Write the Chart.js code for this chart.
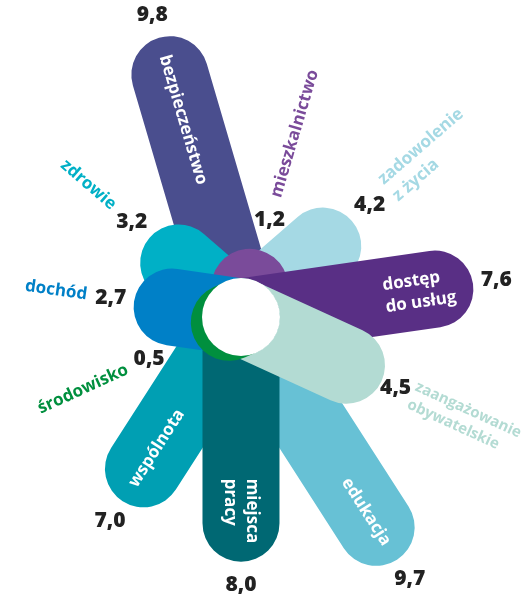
<!DOCTYPE html>
<html><head><meta charset="utf-8">
<script src="https://cdn.jsdelivr.net/npm/chart.js@4/dist/chart.umd.min.js"></script>
<style>html,body{margin:0;padding:0;background:#fff}#wrap{width:527px;height:598px;position:relative}</style>
</head><body><div id="wrap"><canvas id="c"></canvas></div>
<script>
const categories = [['bezpieczeństwo'],['mieszkalnictwo'],['zadowolenie','z życia'],['dostęp','do usług'],['zaangażowanie','obywatelskie'],['edukacja'],['miejsca','pracy'],['wspólnota'],['środowisko'],['dochód'],['zdrowie']];
const values = [9.8, 1.2, 4.2, 7.6, 4.5, 9.7, 8.0, 7.0, 0.5, 2.7, 3.2];
const valueLabels = ['9,8','1,2','4,2','7,6','4,5','9,7','8,0','7,0','0,5','2,7','3,2'];
const colors = ['#4a4e8e','#7a4b9a','#a5d9e4','#592f85','#b3dbd3','#67c1d5','#006873','#009fb3','#008f3e','#0080c7','#00b0c6'];
const stackOrder = [0, 5, 7, 6, 10, 2, 1, 3, 4, 9, 8]; // bottom -> top

const datasets = values.map((v, i) => ({
  label: categories[i].join(' '),
  data: values.map((_, j) => (j === i ? v : 0)),
  borderColor: colors[i],
  backgroundColor: colors[i],
  borderWidth: 77,
  borderCapStyle: 'round',
  borderJoinStyle: 'round',
  fill: false,
  tension: 0,
  pointRadius: 0,
  pointHoverRadius: 0,
  pointHitRadius: 0,
  clip: false,
  order: stackOrder.length - stackOrder.indexOf(i)
}));

const FONT = '"Open Sans", "Noto Sans", sans-serif';

const petalLabels = {
  id: 'petalLabels',
  afterDatasetsDraw(chart) {
    const s = chart.scales.r;
    const ctx = chart.ctx;
    const W = chart.width, H = chart.height;
    const hubR = 39;
    ctx.save();
    ctx.fillStyle = '#fff';
    ctx.beginPath();
    ctx.arc(s.xCenter, s.yCenter, hubR, 0, Math.PI * 2);
    ctx.fill();
    values.forEach((v, i) => {
      const d = s.getDistanceFromCenterForValue(v);
      const a = s.getPointPosition(i, 0).angle;
      const flip = Math.cos(a) < -0.01;
      const rot = flip ? a + Math.PI : a;
      const sign = flip ? -1 : 1;
      const ux = Math.cos(a), uy = Math.sin(a);
      const nx = -Math.sin(rot), ny = Math.cos(rot);
      let vGap = 62, cGap = 24;
      let vd = Math.max(d, hubR) + vGap;

      const lines = categories[i];
      let fs = 17;
      ctx.font = '700 ' + fs + 'px ' + FONT;
      const maxW = Math.max(...lines.map(l => ctx.measureText(l).width));
      let start = d + 20 - maxW, color = '#fff';
      const outside = start < 50;
      if (outside) {
        color = colors[i];
        const fits = () => lines.every((ln, k) => {
          const lh = fs * 1.3;
          const off = (k - (lines.length - 1) / 2) * lh;
          const w = ctx.measureText(ln).width;
          const far = start + w;
          return [-fs * 0.4, fs * 0.4].every(h => {
            const x = s.xCenter + ux * far + nx * (off + h);
            const y = s.yCenter + uy * far + ny * (off + h);
            return x > 1 && x < W - 1 && y > 1 && y < H - 1;
          });
        });
        const place = () => { vd = Math.max(d, hubR) + vGap; start = vd + cGap; };
        place();
        while (!fits() && (vGap > 54 || cGap > 18)) {
          if (vGap > 54) vGap -= 1;
          if (cGap > 18) cGap -= 1;
          place();
        }
        while (fs > 13 && !fits()) {
          fs -= 0.5;
          ctx.font = '700 ' + fs + 'px ' + FONT;
        }
      }

      const vp = s.getPointPosition(i, vd);
      ctx.save();
      ctx.font = '800 21px ' + FONT;
      ctx.fillStyle = '#222';
      ctx.textAlign = 'center';
      ctx.textBaseline = 'middle';
      ctx.fillText(valueLabels[i], vp.x, vp.y);
      ctx.restore();

      ctx.save();
      ctx.font = '700 ' + fs + 'px ' + FONT;
      ctx.translate(s.xCenter, s.yCenter);
      ctx.rotate(rot);
      ctx.fillStyle = color;
      ctx.textAlign = flip ? 'right' : 'left';
      ctx.textBaseline = 'middle';
      const lh = fs * 1.3;
      lines.forEach((ln, k) => {
        const off = (k - (lines.length - 1) / 2) * lh;
        ctx.fillText(ln, sign * start, off);
      });
      ctx.restore();
    });
    ctx.restore();
  }
};

new Chart(document.getElementById('c'), {
  type: 'radar',
  data: { labels: categories, datasets },
  options: {
    responsive: true,
    maintainAspectRatio: false,
    animation: false,
    layout: { padding: { left: 0, right: 45, top: 76, bottom: 40 } },
    plugins: { legend: { display: false }, tooltip: { enabled: false } },
    elements: { line: { fill: false } },
    scales: {
      r: {
        min: 0,
        max: 9.35,
        startAngle: -16.3636,
        grid: { display: false },
        angleLines: { display: false },
        ticks: { display: false },
        pointLabels: { display: false }
      }
    }
  },
  plugins: [petalLabels]
});
</script>
</body></html>
